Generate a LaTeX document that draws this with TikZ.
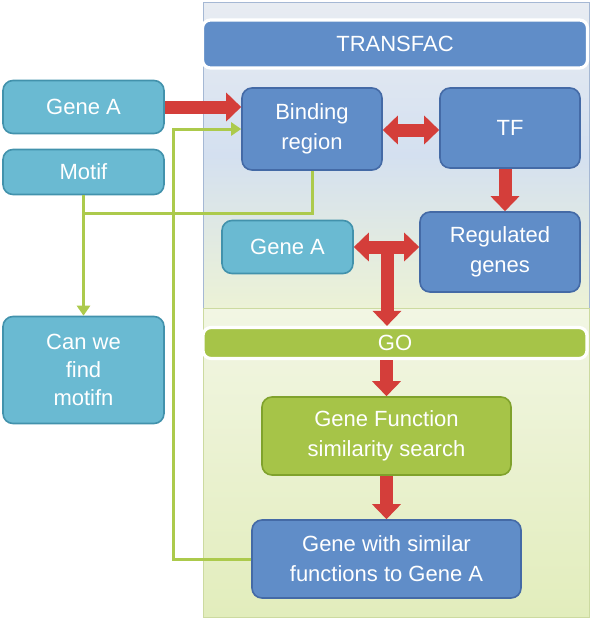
\documentclass[tikz,border=0pt]{standalone}
\usepackage{fontspec}
\setmainfont{Liberation Sans}
\usetikzlibrary{arrows.meta}
\usetikzlibrary{positioning}
\definecolor{darkbox}{RGB}{96,141,200}
\definecolor{darkline}{RGB}{68,106,166}
\definecolor{lightbox}{RGB}{106,186,210}
\definecolor{lightline}{RGB}{66,146,172}
\definecolor{greenbox}{RGB}{166,196,72}
\definecolor{greenline}{RGB}{128,162,44}
\definecolor{arrowred}{RGB}{212,62,58}
\definecolor{linkgreen}{RGB}{172,202,76}
\definecolor{paneltop}{RGB}{232,236,242}
\definecolor{panelmid}{RGB}{212,224,240}
\definecolor{panelbot}{RGB}{236,242,214}
\tikzset{
    box/.style = {
      rectangle,
      rounded corners=5pt,
      draw=darkline,
      line width=0.8pt,
      fill=darkbox,
      text=white,
      align=center,
      inner sep=1pt,
      font=\fontsize{11}{15}\selectfont
    },
    lbox/.style = {box, draw=lightline, fill=lightbox},
    gbox/.style = {box, draw=greenline, fill=greenbox},
    bar/.style = {
      rectangle,
      rounded corners=4pt,
      draw=white,
      line width=1.6pt,
      text=white,
      inner sep=0pt,
      font=\fontsize{11}{15}\selectfont
    },
    fat/.style = {draw=arrowred, line width=6.5pt, -{Triangle[width=14pt,length=7.5pt]}},
    fatboth/.style = {draw=arrowred, line width=6.5pt,
      {Triangle[width=14pt,length=7.5pt]}-{Triangle[width=14pt,length=7.5pt]}},
    link/.style = {draw=linkgreen, line width=1.5pt},
    linkarrow/.style = {link, -{Triangle[width=6.5pt,length=5pt]}},
}
\begin{document}
\begin{tikzpicture}[x=0.5pt, y=-0.5pt]
  \useasboundingbox (0,0) rectangle (596,623);

  % panels
  \path[draw={rgb,255:red,165;green,184;blue,212}, line width=0.5pt,
    top color=paneltop, bottom color=panelbot, middle color=panelmid]
    (203,2) rectangle (589,308);
  \path[draw={rgb,255:red,204;green,218;blue,160}, line width=0.5pt,
    top color={rgb,255:red,242;green,246;blue,228},
    bottom color={rgb,255:red,226;green,237;blue,188}]
    (203,308) rectangle (589,617);

  \node[bar, fill=darkbox, minimum width=192.5pt, minimum height=24pt] (transfac) at (395,44) {TRANSFAC};
  \node[bar, fill=greenbox, minimum width=192pt, minimum height=15.5pt] (go) at (395,343) {GO};

  % left column
  \node[lbox, minimum width=80.5pt, minimum height=26.5pt] (geneA) at (83.5,107) {Gene A};
  \node[lbox, minimum width=80.5pt, minimum height=22.5pt] (motif) at (83.5,172) {Motif};
  \node[lbox, minimum width=80.5pt, minimum height=53.5pt,
        font=\fontsize{11}{14}\selectfont] (canfind) at (83.5,370) {Can we\\find\\motifn};

  % TRANSFAC part
  \node[box, minimum width=70pt, minimum height=41pt] (binding) at (312,129) {Binding\\region};
  \node[box, minimum width=70pt, minimum height=40pt] (tf) at (510,128) {TF};
  \node[lbox, minimum width=65.5pt, minimum height=26.5pt] (geneB) at (287.5,247) {Gene A};
  \node[box, minimum width=80pt, minimum height=40pt] (regulated) at (500,252) {Regulated\\genes};

  % GO part
  \node[gbox, minimum width=124.5pt, minimum height=39pt] (genefunc) at (386.5,436) {Gene Function\\similarity search};
  \node[box, minimum width=134.5pt, minimum height=39pt] (similar) at (386.5,559) {Gene with similar\\functions to Gene A};

  % green links
  \coordinate (split) at (83.5,213);
  \coordinate (back) at (173,300);
  \draw[link] (motif.south) -- (split);
  \draw[linkarrow] (binding.south) |- (split) -- (canfind.north);
  \draw[linkarrow] (similar.west) -| (back) |- (binding.west);

  % red arrows
  \draw[fat] (geneA.east) -- (geneA.east -| binding.west);
  \draw[fatboth] (binding.east |- 0,130) -- (tf.west |- 0,130);
  \draw[fat] (tf.south -| 505,0) -- (regulated.north -| 505,0);
  \draw[fatboth] (geneB.east) -- (geneB.east -| regulated.west);
  \coordinate (fork) at (387,247);
  \draw[fat] (fork) -- (go.north -| fork);
  \draw[fat] (go.south -| genefunc.north) -- (genefunc.north);
  \draw[fat] (genefunc.south) -- (similar.north);
\end{tikzpicture}
\end{document}
